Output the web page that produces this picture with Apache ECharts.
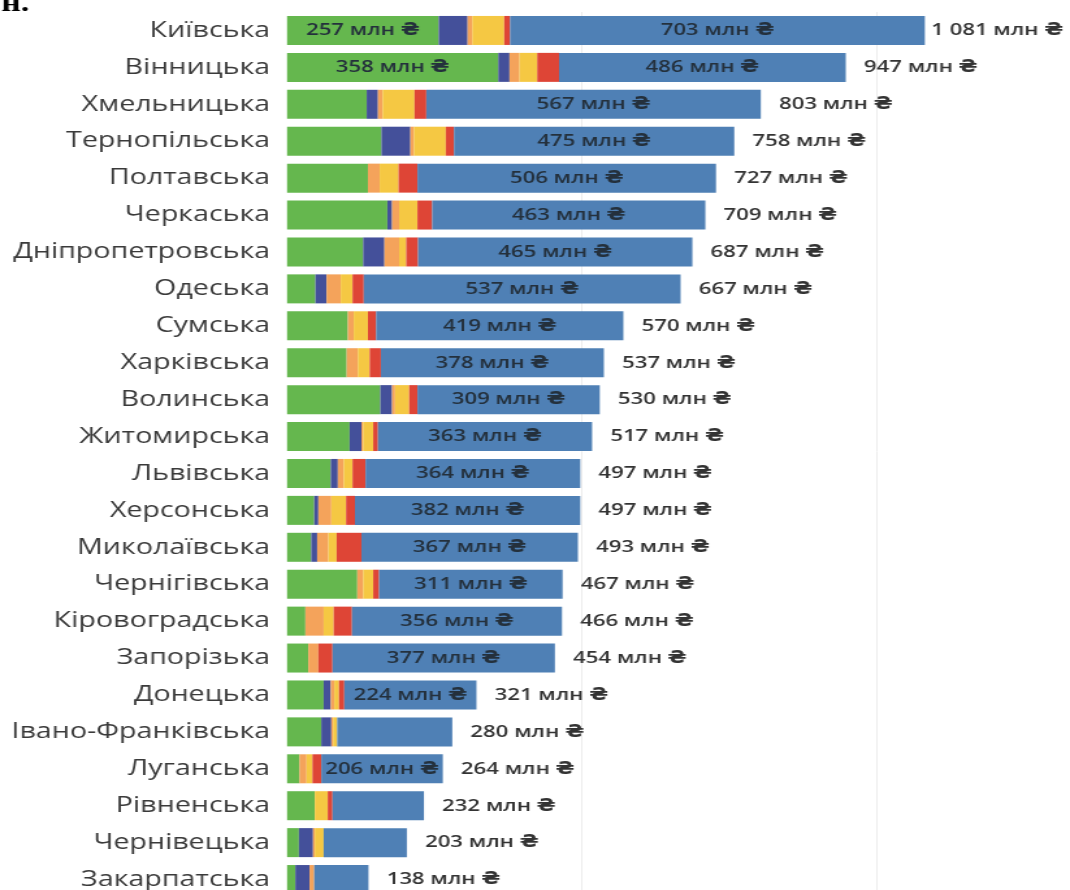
<!DOCTYPE html>
<html>
<head>
<meta charset="utf-8">
<script src="https://cdn.jsdelivr.net/npm/echarts@6/dist/echarts.min.js"></script>
<style>
  html, body { margin: 0; padding: 0; background: #fff; overflow: hidden; }
  /* the source picture is stretched sideways, so the chart is drawn narrower and widened */
  #chart { width: 823px; height: 890px; transform: scaleX(1.3001); transform-origin: 0 0; }
</style>
</head>
<body>
<div id="chart"></div>
<script>
// області, зверху вниз
var regions = ['Київська', 'Вінницька', 'Хмельницька', 'Тернопільська', 'Полтавська', 'Черкаська',
  'Дніпропетровська', 'Одеська', 'Сумська', 'Харківська', 'Волинська', 'Житомирська', 'Львівська',
  'Херсонська', 'Миколаївська', 'Чернігівська', 'Кіровоградська', 'Запорізька', 'Донецька',
  'Івано-Франківська', 'Луганська', 'Рівненська', 'Чернівецька', 'Закарпатська'];

// складові, млн грн
var greenPart  = [257, 358, 135, 160, 137, 170, 129, 48, 103, 101, 158, 106, 74, 46, 41, 119, 31, 36, 62, 58, 21, 47, 20, 14];
var navyPart   = [49, 19, 19, 49, 0, 8, 36, 19, 0, 0, 20, 20, 12, 7, 10, 0, 0, 0, 12, 17, 0, 0, 24, 24];
var orangePart = [8, 17, 8, 6, 20, 12, 25, 24, 10, 19, 5, 3, 10, 22, 19, 10, 31, 17, 6, 3, 12, 0, 3, 8];
var yellowPart = [54, 30, 54, 54, 32, 31, 12, 20, 24, 20, 24, 17, 15, 25, 14, 17, 17, 0, 8, 7, 10, 22, 15, 0];
var redPart    = [10, 37, 20, 14, 32, 25, 20, 19, 14, 19, 14, 8, 22, 15, 42, 10, 31, 24, 9, 0, 15, 8, 0, 0];
var bluePart   = [703, 486, 567, 475, 506, 463, 465, 537, 419, 378, 309, 363, 364, 382, 367, 311, 356, 377, 224, 195, 206, 155, 141, 92];
var totals     = [1081, 947, 803, 758, 727, 709, 687, 667, 570, 537, 530, 517, 497, 497, 493, 467, 466, 454, 321, 280, 264, 232, 203, 138];

var valueFont = "'Open Sans', 'DejaVu Sans', sans-serif";

function fmt(v) {
  return String(v).replace(/\B(?=(\d{3})+(?!\d))/g, ' ') + ' млн ₴';
}

function part(name, color, data, minLabel) {
  return {
    name: name,
    type: 'bar',
    stack: 'sum',
    barWidth: 29,
    itemStyle: { color: color },
    label: {
      show: minLabel > 0,
      position: 'inside',
      fontFamily: valueFont,
      fontSize: 17,
      fontWeight: 600,
      color: '#24303c',
      formatter: function (p) { return p.value >= minLabel ? fmt(p.value) : ''; }
    },
    data: data
  };
}

var chart = echarts.init(document.getElementById('chart'));
chart.setOption({
  animation: false,
  grid: { left: 220.8, top: 12, width: 680.7, height: 886, outerBoundsMode: 'none' },
  xAxis: {
    type: 'value',
    min: 0,
    max: 1500,
    interval: 500,
    axisLabel: { show: false },
    axisLine: { show: false },
    axisTick: { show: false },
    splitLine: { lineStyle: { color: ['transparent', '#ececec', '#ececec', '#ececec'], width: 1 } }
  },
  yAxis: {
    type: 'category',
    inverse: true,
    data: regions,
    axisLine: { show: false },
    axisTick: { show: false },
    axisLabel: { margin: 13, fontFamily: "'Open Sans', sans-serif", fontSize: 22, color: '#3a3a3a' }
  },
  graphic: [{
    type: 'text', left: 1, top: -9,
    style: { text: 'н.', font: 'bold 26px "Liberation Serif"', fill: '#000' }
  }],
  series: [
    part('green', '#65b74e', greenPart, 200),
    part('navy', '#44509a', navyPart, 0),
    part('orange', '#f4a35b', orangePart, 0),
    part('yellow', '#f5c843', yellowPart, 0),
    part('red', '#de4536', redPart, 0),
    part('blue', '#4f80b5', bluePart, 200),
    {
      name: 'total',
      type: 'bar',
      stack: 'sum',
      barWidth: 29,
      itemStyle: { color: 'transparent' },
      label: {
        show: true,
        position: 'right',
        distance: 14,
        fontFamily: valueFont,
        fontSize: 17,
        fontWeight: 600,
        color: '#333',
        formatter: function (p) { return fmt(totals[p.dataIndex]); }
      },
      // the widest bar leaves little room, so its total sits closer
      data: totals.map(function (t) {
        return t > 1000 ? { value: 0, label: { distance: 5 } } : 0;
      })
    }
  ]
});
</script>
</body>
</html>
